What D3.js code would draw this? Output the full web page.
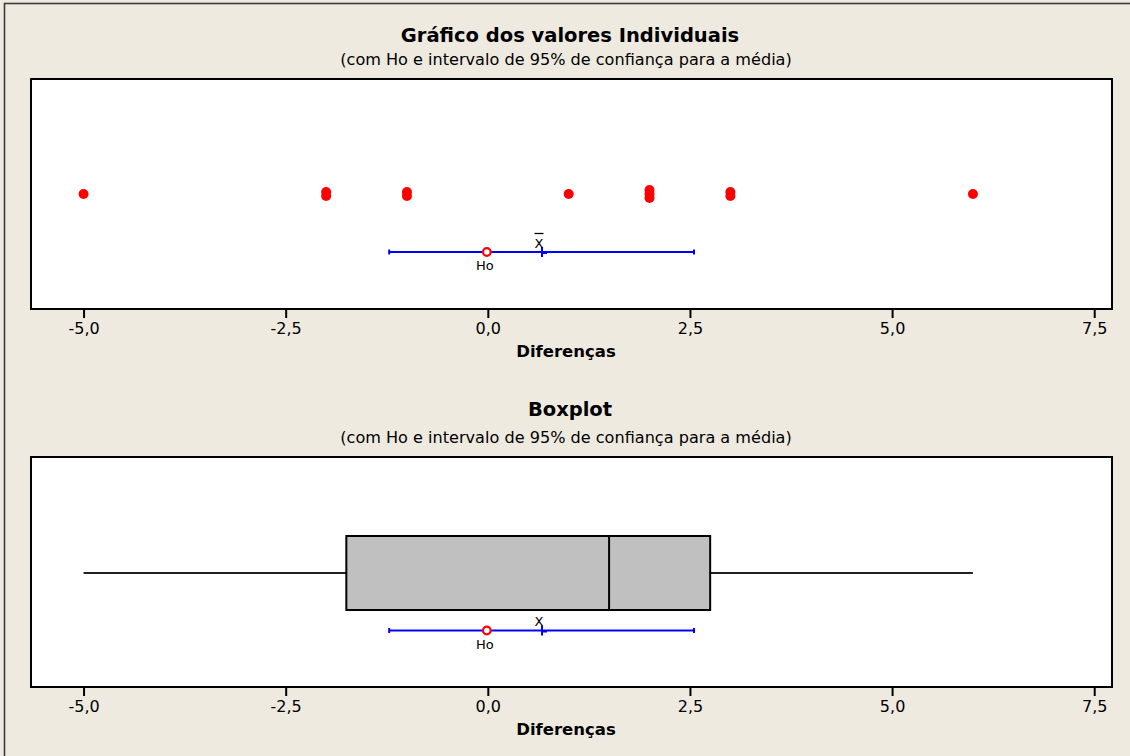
<!DOCTYPE html>
<html><head><meta charset="utf-8">
<script src="https://cdn.jsdelivr.net/npm/d3@7"></script>
<style>
html,body{margin:0;padding:0;background:#EEEAE0;}
svg{display:block;}
text{font-family:"DejaVu Sans",sans-serif;fill:#000;}
</style></head>
<body>
<svg id="c" width="1130" height="756"></svg>
<script>
// ---- data ----
const diferencas = [-5, -2, -2, -1, -1, 1, 2, 2, 2, 3, 3, 6];
const boxLabels = ["mínimo", "Q1", "mediana", "Q3", "máximo"];
const boxValues = [-5, -1.75, 1.5, 2.75, 6];
const ciLabels = ["inferior", "média", "superior"];
const ciValues = [-1.22, 0.67, 2.55];
const h0Value = [0];
const tickValues = [-5, -2.5, 0, 2.5, 5, 7.5];
const tickLabels = ["-5,0", "-2,5", "0,0", "2,5", "5,0", "7,5"];
const titles = ["Gráfico dos valores Individuais", "Boxplot"];
const subtitle = "(com Ho e intervalo de 95% de confiança para a média)";
const axisLabel = "Diferenças";

const svg = d3.select("#c");
svg.append("rect").attr("x",4.5).attr("y",3.5).attr("width",1300).attr("height",1000)
  .attr("fill","#EEEAE0").attr("stroke","#3a3a3a").attr("stroke-width",1.6);

const L = 31, R = 1112;
const x = d3.scaleLinear().domain([-5.65, 7.72]).range([L, R]);

function panel(top, title, titleY, subY) {
  const H = 230;
  const g = svg.append("g");
  g.append("text").attr("x", 570).attr("y", titleY).attr("text-anchor","middle")
    .attr("font-weight","bold").attr("font-size", 19.5).text(title);
  g.append("text").attr("x", 566).attr("y", subY).attr("text-anchor","middle")
    .attr("font-size", 16.1).text(subtitle);
  g.append("rect").attr("x", L).attr("y", top).attr("width", R-L).attr("height", H)
    .attr("fill","#fff").attr("stroke","#000").attr("stroke-width",2);
  const ax = g.append("g").attr("transform", `translate(0,${top+H})`)
    .call(d3.axisBottom(x).tickValues(tickValues).tickFormat((d,i)=>tickLabels[i]).tickSize(9).tickSizeOuter(0));
  ax.select(".domain").remove();
  ax.selectAll(".tick line").attr("stroke","#000").attr("stroke-width",2);
  ax.selectAll(".tick text").attr("font-size",16).attr("font-family","DejaVu Sans").attr("dy","0.82em").attr("fill","#000");
  g.append("text").attr("x", 566).attr("y", top+H+48).attr("text-anchor","middle")
    .attr("font-weight","bold").attr("font-size",16.5).text(axisLabel);
  return g;
}

function ciBar(g, cy, showBar) {
  const blue = "#0000ff";
  g.append("line").attr("x1", x(ciValues[0])).attr("x2", x(ciValues[2]))
    .attr("y1", cy).attr("y2", cy).attr("stroke", blue).attr("stroke-width", 2);
  [ciValues[0], ciValues[2]].forEach(v => {
    g.append("line").attr("x1", x(v)).attr("x2", x(v)).attr("y1", cy-2.5).attr("y2", cy+2.5)
      .attr("stroke", blue).attr("stroke-width", 2);
  });
  g.append("line").attr("x1", x(ciValues[1])).attr("x2", x(ciValues[1])).attr("y1", cy-5).attr("y2", cy+5)
    .attr("stroke", blue).attr("stroke-width", 2);
  g.append("line").attr("x1", x(ciValues[1])).attr("x2", x(ciValues[1])+5).attr("y1", cy+1).attr("y2", cy+1)
    .attr("stroke", blue).attr("stroke-width", 2);
  g.append("text").attr("x", x(ciValues[1])-3).attr("y", cy-4.5).attr("text-anchor","middle")
    .attr("font-size", 13).text("X");
  if (showBar) {
    g.append("line").attr("x1", x(ciValues[1])-7.5).attr("x2", x(ciValues[1])+1.5)
      .attr("y1", cy-18.5).attr("y2", cy-18.5).attr("stroke","#000").attr("stroke-width",1.3);
  }
  g.append("circle").attr("cx", x(h0Value[0])-1).attr("cy", cy).attr("r", 3.8)
    .attr("fill","#fff").attr("stroke","#ff0000").attr("stroke-width",2.2);
  g.append("text").attr("x", x(h0Value[0])-3).attr("y", cy+18).attr("text-anchor","middle")
    .attr("font-size", 13).text("Ho");
}

// Panel 1: individual values
const top1 = 79;
const g1 = panel(top1, titles[0], 42, 65);
const counts = {};
const stacked = diferencas.map(v => { counts[v] = (counts[v]||0); const k = counts[v]++; return {v, k}; });
const totals = d3.rollup(diferencas, a => a.length, d => d);
g1.selectAll("circle.pt").data(stacked).join("circle").attr("class","pt")
  .attr("cx", d => x(d.v))
  .attr("cy", d => top1 + 115 + (d.k - (totals.get(d.v)-1)/2) * 4)
  .attr("r", 5).attr("fill","#ff0000");
ciBar(g1, top1 + 173, true);

// Panel 2: boxplot
const top2 = 457;
const g2 = panel(top2, titles[1], 416, 443);
const by = top2 + 116, bTop = top2 + 79, bBot = top2 + 153;
g2.append("line").attr("x1", x(boxValues[0])).attr("x2", x(boxValues[1])).attr("y1", by).attr("y2", by)
  .attr("stroke","#222").attr("stroke-width",2);
g2.append("line").attr("x1", x(boxValues[3])).attr("x2", x(boxValues[4])).attr("y1", by).attr("y2", by)
  .attr("stroke","#222").attr("stroke-width",2);
g2.append("rect").attr("x", x(boxValues[1])).attr("y", bTop)
  .attr("width", x(boxValues[3]) - x(boxValues[1])).attr("height", bBot - bTop)
  .attr("fill","#c0c0c0").attr("stroke","#000").attr("stroke-width",2);
g2.append("line").attr("x1", x(boxValues[2])).attr("x2", x(boxValues[2])).attr("y1", bTop).attr("y2", bBot)
  .attr("stroke","#000").attr("stroke-width",2);
ciBar(g2, top2 + 173.5, false);
</script>
</body></html>
